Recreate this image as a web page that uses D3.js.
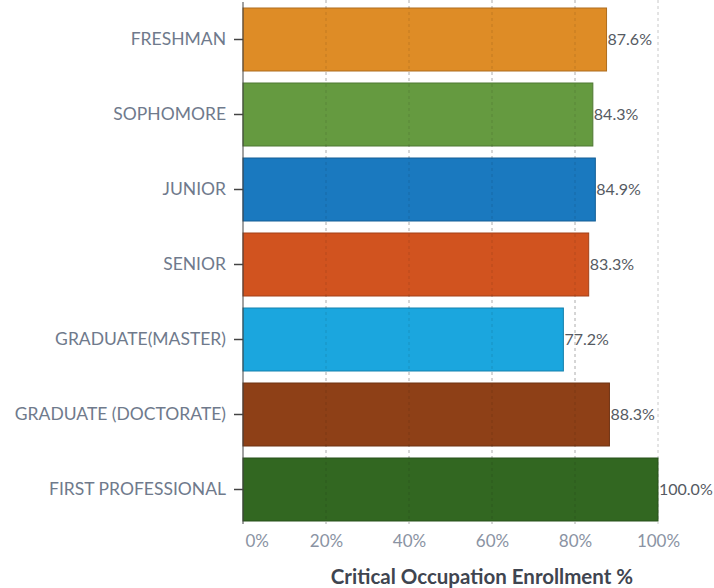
<!DOCTYPE html>
<html>
<head>
<meta charset="utf-8">
<script src="https://cdn.jsdelivr.net/npm/d3@7"></script>
<style>
  body { margin: 0; background: #fff; }
  svg { font-family: Lato, "Open Sans", sans-serif; }
</style>
</head>
<body>
<div id="chart"></div>
<script>
(function() {
    let categories = ['FRESHMAN', 'SOPHOMORE', 'JUNIOR', 'SENIOR', 'GRADUATE(MASTER)', 'GRADUATE (DOCTORATE)', 'FIRST PROFESSIONAL'];
    let values = [87.6, 84.3, 84.9, 83.3, 77.2, 88.3, 100.0];
    let colors = ['#de8c26', '#659a40', '#1a79bf', '#d1531f', '#1ba6de', '#8e4017', '#326721'];
    let ticks = [0, 20, 40, 60, 80, 100];

    let width = 714, height = 588;
    let margin = {top: 8, left: 243, right: 56, bottom: 63};

    let svg = d3.select('#chart')
        .append('svg')
        .attr('width', width)
        .attr('height', height);

    let x = d3.scaleLinear()
        .domain([0, 100])
        .range([margin.left, width - margin.right]);

    let y = d3.scaleBand()
        .domain(categories)
        .range([margin.top - 6, height - margin.bottom + 2])
        .paddingInner(0.16)
        .paddingOuter(0.08);

    let axisBottom = 524;

    // dashed grid
    svg.selectAll('.grid')
        .data(ticks.slice(1))
        .enter()
        .append('line')
        .attr('x1', d => x(d))
        .attr('x2', d => x(d))
        .attr('y1', 0)
        .attr('y2', axisBottom)
        .attr('stroke', '#c8c8c8')
        .attr('stroke-dasharray', '3,3');

    svg.selectAll('.bar')
        .data(values)
        .enter()
        .append('rect')
        .attr('x', x(0))
        .attr('y', (d, i) => y(categories[i]))
        .attr('width', d => x(d) - x(0))
        .attr('height', y.bandwidth())
        .attr('fill', (d, i) => colors[i])
        .attr('stroke', (d, i) => d3.color(colors[i]).darker(0.7))
        .attr('stroke-width', 1);

    // grid over bars, faint
    svg.selectAll('.grid2')
        .data(ticks.slice(1, -1))
        .enter()
        .append('line')
        .attr('x1', d => x(d))
        .attr('x2', d => x(d))
        .attr('y1', 0)
        .attr('y2', axisBottom)
        .attr('stroke', 'rgba(0,0,0,0.12)')
        .attr('stroke-dasharray', '3,3');

    svg.selectAll('.val')
        .data(values)
        .enter()
        .append('text')
        .attr('x', d => x(d) + 1)
        .attr('y', (d, i) => y(categories[i]) + y.bandwidth() / 2)
        .attr('dy', '0.35em')
        .attr('font-size', 16)
        .attr('fill', '#555a62')
        .text(d => d.toFixed(1) + '%');

    let yAxis = svg.append('g')
        .attr('transform', 'translate(' + x(0) + ',0)')
        .call(d3.axisLeft(y).tickSize(9).tickPadding(8));
    yAxis.select('.domain')
        .attr('d', 'M0,2V' + axisBottom)
        .attr('stroke', '#444');
    yAxis.selectAll('.tick line').attr('stroke', '#444').attr('stroke-width', 1.5);
    yAxis.selectAll('.tick text')
        .attr('font-size', 17.5)
        .attr('fill', '#6f7a8c')
        .attr('font-family', 'Lato, sans-serif');

    let xAxis = svg.append('g')
        .attr('transform', 'translate(0,' + axisBottom + ')')
        .call(d3.axisBottom(x).tickValues(ticks).tickSize(0).tickPadding(11).tickFormat(d => d + '%'));
    xAxis.select('.domain').remove();
    xAxis.selectAll('.tick text')
        .attr('font-size', 17)
        .attr('fill', '#8a93a3')
        .attr('font-family', 'Lato, sans-serif');
    xAxis.selectAll('.tick text')
        .filter(d => d === 0)
        .attr('text-anchor', 'start')
        .attr('dx', 2);

    svg.append('text')
        .attr('x', 482)
        .attr('y', 584)
        .attr('text-anchor', 'middle')
        .attr('font-size', 20.5)
        .attr('font-weight', 'bold')
        .attr('fill', '#3f4550')
        .text('Critical Occupation Enrollment %');
})();
</script>
</body>
</html>
